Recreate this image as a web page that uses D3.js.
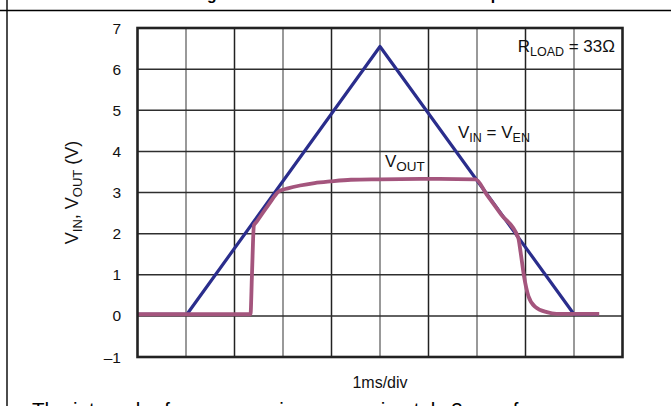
<!DOCTYPE html>
<html>
<head>
<meta charset="utf-8">
<script src="https://cdn.jsdelivr.net/npm/d3@7"></script>
<style>
  html, body { margin: 0; padding: 0; background: #fff; overflow: hidden; }
  svg { display: block; font-family: Arial, "Liberation Sans", sans-serif; }
</style>
</head>
<body>
<svg id="chart" width="671" height="406"></svg>
<script>
// time in divisions (1 ms/div), volts
const vinTime = [0, 1.02, 5, 9, 9.5];
const vinVolts = [0.04, 0.04, 6.55, 0.04, 0.04];

const voutTime = [0, 2.33, 2.36, 2.40, 2.45, 2.7, 2.92, 3.1, 3.35, 3.65, 3.97, 4.4, 5.0, 6.0, 6.97,
  7.2, 7.5, 7.85, 7.9, 7.97, 8.06, 8.2, 8.44, 8.64, 9.52];
const voutVolts = [0.04, 0.04, 1.0, 2.2, 2.28, 2.7, 3.03, 3.1, 3.17, 3.23, 3.27, 3.31, 3.32, 3.33, 3.32,
  2.95, 2.46, 1.9, 1.54, 0.96, 0.48, 0.22, 0.09, 0.05, 0.05];

const yTicks = [7, 6, 5, 4, 3, 2, 1, 0, -1];
const xDivs = d3.range(0, 11);

const svg = d3.select('#chart');
const plot = { left: 137.5, right: 622.5, top: 28, bottom: 357 };

const x = d3.scaleLinear().domain([0, 10]).range([plot.left, plot.right]);
const y = d3.scaleLinear().domain([-1, 7]).range([plot.bottom, plot.top]);

// page furniture: cut-off title, rules, cut-off body text
svg.append('line').attr('x1', 0).attr('x2', 671).attr('y1', 10.5).attr('y2', 10.5)
  .attr('stroke', '#000').attr('stroke-width', 1.4);
svg.append('line').attr('x1', 7).attr('x2', 7).attr('y1', 0).attr('y2', 406)
  .attr('stroke', '#000').attr('stroke-width', 1.4);

const titleText = 'Turn-On Timing Characteristics with VIN = VEN Ramp';
const title = svg.append('text').attr('x', 0).attr('y', 0)
  .attr('font-weight', 'bold').attr('font-size', 16)
  .text(titleText);
// only the descenders of the title peek in: put the "g" and "p" where they sit in the reference
{
  const node = title.node();
  const gi = titleText.indexOf('g'), pi = titleText.lastIndexOf('p');
  const g0 = node.getStartPositionOfChar(gi).x + node.getSubStringLength(gi, 1) / 2;
  const p0 = node.getStartPositionOfChar(pi).x + node.getSubStringLength(pi, 1) / 2;
  const k = (496 - 212) / (p0 - g0);
  title.attr('font-size', 16 * k).attr('x', 212 - g0 * k).attr('y', -0.5);
}

svg.append('text').attr('x', 32).attr('y', 416.5).attr('font-size', 20.5)
  .text('The internal reference requires approximately 3 ms of rampup');

// grid
svg.append('g').selectAll('line').data(xDivs.slice(1, 10)).join('line')
  .attr('x1', d => x(d)).attr('x2', d => x(d))
  .attr('y1', plot.top).attr('y2', plot.bottom)
  .attr('stroke', d => d % 2 ? '#777' : '#222')
  .attr('stroke-width', 1.5);
svg.append('g').selectAll('line').data(yTicks.slice(1, 8)).join('line')
  .attr('x1', plot.left).attr('x2', plot.right)
  .attr('y1', d => y(d)).attr('y2', d => y(d))
  .attr('stroke', '#2e2e2e')
  .attr('stroke-width', 1.5);

// y tick labels
svg.append('g').selectAll('text').data(yTicks).join('text')
  .attr('x', 121).attr('y', d => y(d)).attr('dy', '0.36em')
  .attr('text-anchor', 'end').attr('font-size', 15.5).attr('fill', '#111')
  .text(d => d < 0 ? '\u2013' + Math.abs(d) : d);

// traces
const line = d3.line().x(d => x(d[0])).y(d => y(d[1]));
const vin = vinTime.map((t, i) => [t, vinVolts[i]]);
const vout = voutTime.map((t, i) => [t, voutVolts[i]]);

svg.append('path').datum(vin)
  .attr('d', line)
  .attr('fill', 'none').attr('stroke', '#2a2d8c').attr('stroke-width', 3.2)
  .attr('stroke-linejoin', 'round');
svg.append('path').datum(vout)
  .attr('d', line.curve(d3.curveMonotoneX))
  .attr('fill', 'none').attr('stroke', '#a4557d').attr('stroke-width', 3.8)
  .attr('stroke-linejoin', 'round');

// frame
svg.append('rect')
  .attr('x', plot.left).attr('y', plot.top)
  .attr('width', plot.right - plot.left).attr('height', plot.bottom - plot.top)
  .attr('fill', 'none').attr('stroke', '#222').attr('stroke-width', 2.6);

// labels with subscripts
function subLabel(parts, attrs, subSize) {
  const t = svg.append('text').attr('font-size', 17).attr('fill', '#111');
  Object.entries(attrs).forEach(([k, v]) => t.attr(k, v));
  let low = false;
  parts.forEach(([txt, sub]) => {
    const s = t.append('tspan').text(txt);
    if (sub) { s.attr('font-size', subSize || 12.5).attr('dy', 4.3); low = true; }
    else if (low) { s.attr('dy', -4.3); low = false; }
  });
  return t;
}

subLabel([['R'], ['LOAD', true], [' = 33\u03a9']], { x: 615, y: 52, 'text-anchor': 'end' });
subLabel([['V'], ['IN', true], [' = V'], ['EN', true]], { x: 458, y: 138 });
subLabel([['V'], ['OUT', true]], { x: 385, y: 167 }, 13.5);
subLabel([['V'], ['IN', true], [', V'], ['OUT', true], [' (V)']],
  { x: 0, y: 0, 'font-size': 18, 'text-anchor': 'middle',
    transform: `translate(78,${(plot.top + plot.bottom) / 2}) rotate(-90)` }, 13);

svg.append('text').attr('x', x(5)).attr('y', 388)
  .attr('text-anchor', 'middle').attr('font-size', 16).attr('fill', '#111')
  .text('1ms/div');
</script>
</body>
</html>
